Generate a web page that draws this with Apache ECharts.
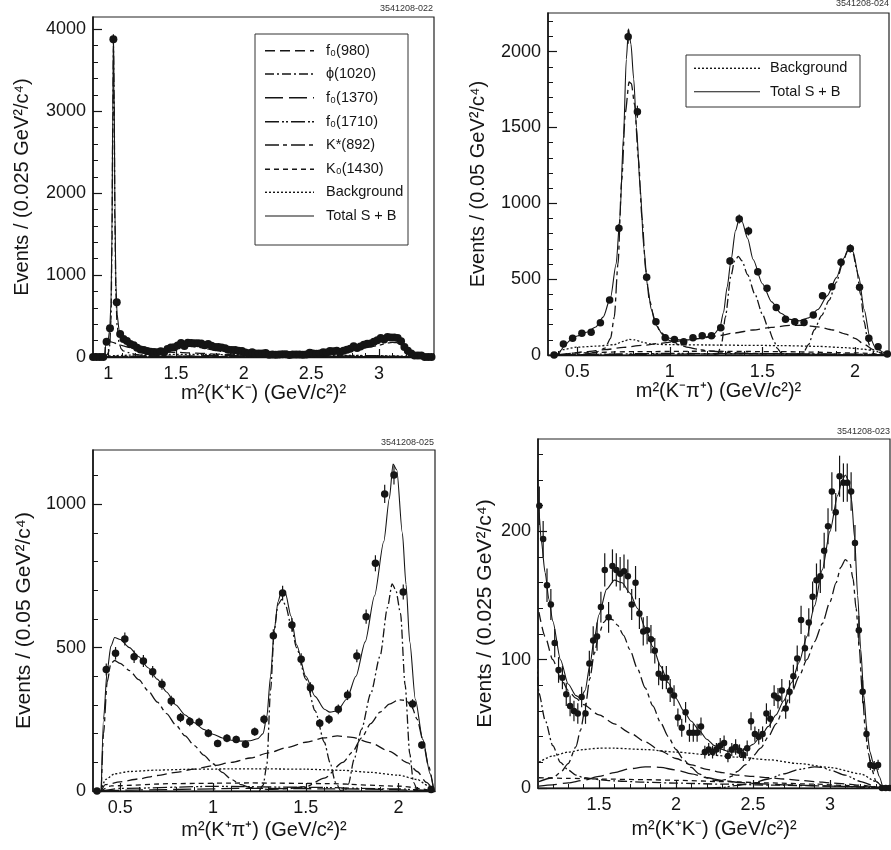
<!DOCTYPE html>
<html>
<head>
<meta charset="utf-8">
<script src="https://cdn.jsdelivr.net/npm/echarts@6/dist/echarts.min.js"></script>
<style>
html,body{margin:0;padding:0;background:#fff;}
#chart{width:891px;height:850px;}
</style>
</head>
<body>
<div id="chart"></div>
<script>
// ---------- measured histograms ----------
// m^2(K+K-) bin centres, 0.025 GeV^2 bins
const kkMass = [0.8875,0.9125,0.9375,0.9625,0.9875,1.0125,1.0375,1.0625,1.0875,
  1.1125,1.1375,1.1625,1.1875,1.2125,1.2375,1.2625,1.2875,1.3125,1.3375,
  1.3625,1.3875,1.4125,1.4375,1.4625,1.4875,1.5125,1.5375,1.5625,1.5875,
  1.6125,1.6375,1.6625,1.6875,1.7125,1.7375,1.7625,1.7875,1.8125,1.8375,
  1.8625,1.8875,1.9125,1.9375,1.9625,1.9875,2.0125,2.0375,2.0625,2.0875,
  2.1125,2.1375,2.1625,2.1875,2.2125,2.2375,2.2625,2.2875,2.3125,2.3375,
  2.3625,2.3875,2.4125,2.4375,2.4625,2.4875,2.5125,2.5375,2.5625,2.5875,
  2.6125,2.6375,2.6625,2.6875,2.7125,2.7375,2.7625,2.7875,2.8125,2.8375,
  2.8625,2.8875,2.9125,2.9375,2.9625,2.9875,3.0125,3.0375,3.0625,3.0875,
  3.1125,3.1375,3.1625,3.1875,3.2125,3.2375,3.2625,3.2875,3.3125,3.3375,
  3.3625,3.3875];
const kkCounts = [0,0,0,0,187,350,3878,667,280,
  220,194,158,143,113,92,86,73,64,60,
  58,71,58,97,115,118,141,170,133,173,
  170,167,169,165,143,160,136,122,123,116,
  107,89,86,86,76,72,55,47,59,43,
  43,43,48,28,30,28,30,33,35,25,
  30,32,29,26,31,52,42,40,42,58,
  54,72,70,76,62,75,87,101,131,109,
  129,149,162,165,185,204,231,215,243,238,
  238,231,191,123,75,42,18,17,18,0,
  0,0];
const kkErrors = [0,0,0,0,14,19,62,26,17,
  15,14,13,12,11,10,9,9,8,8,
  8,8,8,10,11,11,12,13,12,13,
  13,13,13,13,12,13,12,11,11,11,
  10,9,9,9,9,8,7,7,8,7,
  7,7,7,5,5,5,5,6,6,5,
  5,6,5,5,6,7,6,6,6,8,
  7,8,8,9,8,9,9,10,11,10,
  11,12,13,13,14,14,15,15,16,15,
  15,15,14,11,9,6,4,4,4,0,
  0,0];

// m^2(K pi) bin centres, 0.05 GeV^2 bins
const kpiMass = [0.375,0.425,0.475,0.525,0.575,0.625,0.675,0.725,0.775,0.825,
  0.875,0.925,0.975,1.025,1.075,1.125,1.175,1.225,1.275,1.325,
  1.375,1.425,1.475,1.525,1.575,1.625,1.675,1.725,1.775,1.825,
  1.875,1.925,1.975,2.025,2.075,2.125,2.175];
const kmPiCounts = [0,72,110,143,150,213,362,835,2098,1604,
  512,220,114,103,88,114,127,127,180,620,
  897,817,549,440,314,235,220,215,264,391,
  450,611,703,446,110,55,7];
const kmPiErrors = [0,8,10,12,12,15,19,29,46,40,
  23,15,11,10,9,11,11,11,13,25,
  30,29,23,21,18,15,15,15,16,20,
  21,25,27,21,10,7,3];
const kpPiCounts = [0,424,480,530,468,453,416,372,314,256,
  242,240,201,166,184,180,163,207,250,541,
  690,579,459,360,236,250,285,335,471,608,
  794,1036,1102,694,303,160,5];
const kpPiErrors = [0,21,22,23,22,21,20,19,18,16,
  16,15,14,13,14,13,13,14,16,23,
  26,24,21,19,15,16,17,18,22,25,
  28,32,33,26,17,13,2];

// ---------- fit projections, [m^2, events] ----------
const kkFitTotal = [[0.975,0],[0.979,140],[0.99,178],[1.0,215],[1.01,330],[1.02,650],[1.027,1500],[1.033,3000],[1.038,3930],[1.043,3300],[1.049,1800],[1.056,900],[1.065,520],[1.08,330],[1.095,255],[1.11,215],[1.125,193],[1.15,168],[1.175,147],[1.2,130],[1.25,100],[1.3,81],[1.35,72],[1.38,70],[1.41,76],[1.44,95],[1.47,117],[1.5,135],[1.55,155],[1.6,162],[1.65,160],[1.7,152],[1.75,140],[1.8,125],[1.85,110],[1.9,95],[1.95,82],[2.0,70],[2.05,60],[2.1,52],[2.15,45],[2.2,38],[2.25,33],[2.3,30],[2.35,28],[2.4,28],[2.45,30],[2.5,34],[2.55,40],[2.6,48],[2.65,57],[2.7,68],[2.75,82],[2.8,98],[2.85,118],[2.9,142],[2.95,170],[3.0,200],[3.05,228],[3.08,240],[3.1,244],[3.12,240],[3.14,225],[3.16,195],[3.18,150],[3.2,108],[3.22,72],[3.24,45],[3.26,28],[3.28,20],[3.3,16],[3.32,9],[3.343,0]];
const kkFitF0980 = [[0.975,0],[0.979,150],[0.99,185],[1.0,190],[1.02,185],[1.04,175],[1.06,162],[1.08,150],[1.11,137],[1.15,118],[1.2,100],[1.25,86],[1.3,76],[1.35,70],[1.4,65],[1.5,57],[1.6,50],[1.7,43],[1.8,36],[1.9,29],[2.0,23],[2.1,18],[2.2,14.5],[2.3,12],[2.4,10],[2.5,9],[2.6,8],[2.7,7],[2.8,6],[2.9,5],[3.0,4],[3.1,3.2],[3.2,2.2],[3.3,0.8],[3.343,0]];
const kkFitPhi = [[0.975,0],[0.99,25],[1.0,50],[1.01,130],[1.02,450],[1.027,1350],[1.033,2850],[1.038,3800],[1.043,3150],[1.049,1650],[1.056,780],[1.065,390],[1.08,170],[1.095,100],[1.11,74],[1.15,53],[1.2,33],[1.25,20],[1.3,14],[1.35,10],[1.4,8],[1.5,6.5],[1.6,5.5],[1.8,4.5],[2.0,3.8],[2.3,3],[2.6,2.3],[3.0,1.5],[3.3,0.5],[3.343,0]];
const kkFitF01370 = [[0.975,0],[1.11,1.5],[1.2,2.5],[1.3,4],[1.4,6],[1.5,9],[1.6,12],[1.7,15],[1.8,16.5],[1.85,16.5],[1.9,16],[2.0,14],[2.1,11],[2.2,8],[2.3,6],[2.4,4.5],[2.5,3.5],[2.7,2.5],[3.0,1.5],[3.3,0.5],[3.343,0]];
const kkFitF01710 = [[0.975,0],[2.2,0],[2.3,0.5],[2.4,2],[2.5,4],[2.6,7],[2.7,11],[2.8,14.5],[2.9,16.5],[2.95,16],[3.0,14],[3.1,10],[3.2,5],[3.3,1],[3.343,0]];
const kkFitKstar = [[0.975,0],[1.0,3],[1.05,4],[1.11,5],[1.2,8],[1.25,12],[1.3,19],[1.35,32],[1.38,45],[1.41,62],[1.44,85],[1.47,105],[1.5,120],[1.53,129],[1.56,133],[1.59,131],[1.62,127],[1.66,119],[1.7,108],[1.75,93],[1.8,78],[1.85,64],[1.9,51],[1.95,40],[2.0,30],[2.05,22],[2.1,16],[2.15,11],[2.2,8],[2.25,6],[2.28,5.5],[2.32,6.5],[2.36,9],[2.4,13],[2.45,18],[2.5,25],[2.55,31],[2.6,40],[2.65,50],[2.7,62],[2.75,74],[2.8,87],[2.85,100],[2.9,114],[2.95,128],[3.0,145],[3.04,160],[3.07,172],[3.1,178],[3.13,175],[3.15,163],[3.17,140],[3.19,110],[3.21,75],[3.23,45],[3.25,27],[3.27,15],[3.3,5],[3.343,0]];
const kkFitK01430 = [[0.975,0],[1.0,5],[1.11,8],[1.3,7.5],[1.5,7],[1.8,6.5],[2.0,6],[2.3,5],[2.6,4],[2.9,3],[3.1,2],[3.3,0.6],[3.343,0]];
const kkFitBkg = [[0.975,0],[1.0,12],[1.05,17],[1.11,20],[1.2,25],[1.3,28],[1.4,30],[1.5,31],[1.6,31],[1.8,30],[2.0,28],[2.2,26],[2.4,24],[2.6,22],[2.8,19],[3.0,16],[3.2,11],[3.3,5],[3.343,0]];

const kmFitTotal = [[0.401,0],[0.41,30],[0.43,60],[0.46,95],[0.5,125],[0.55,150],[0.6,185],[0.64,250],[0.68,380],[0.71,600],[0.73,900],[0.75,1450],[0.765,1950],[0.777,2150],[0.79,2050],[0.805,1820],[0.82,1500],[0.84,1100],[0.86,700],[0.88,450],[0.9,300],[0.93,190],[0.96,135],[1.0,110],[1.05,100],[1.1,100],[1.15,108],[1.2,120],[1.24,140],[1.27,180],[1.29,280],[1.31,450],[1.33,620],[1.355,820],[1.375,900],[1.39,880],[1.42,770],[1.45,630],[1.5,470],[1.55,350],[1.6,275],[1.65,235],[1.7,225],[1.75,245],[1.8,300],[1.85,390],[1.9,510],[1.94,640],[1.97,705],[1.99,680],[2.02,520],[2.05,300],[2.08,120],[2.11,50],[2.15,20],[2.173,0]];
const kmFitKstar = [[0.401,0],[0.5,3],[0.55,8],[0.6,18],[0.65,45],[0.68,110],[0.7,250],[0.72,600],[0.74,1150],[0.76,1600],[0.78,1800],[0.792,1790],[0.81,1650],[0.83,1300],[0.85,900],[0.87,560],[0.89,360],[0.92,220],[0.95,150],[1.0,95],[1.05,68],[1.1,50],[1.15,38],[1.2,28],[1.3,18],[1.4,12],[1.6,7],[1.8,4],[2.0,2],[2.173,0]];
const kmFitPhi = [[1.24,0],[1.26,10],[1.28,77],[1.3,250],[1.33,520],[1.35,620],[1.37,650],[1.39,620],[1.42,530],[1.46,400],[1.5,270],[1.53,185],[1.56,100],[1.58,45],[1.6,15],[1.62,0],[1.7,0],[1.72,12],[1.75,70],[1.78,165],[1.82,260],[1.86,360],[1.9,480],[1.93,590],[1.96,690],[1.975,702],[1.99,670],[2.01,560],[2.03,400],[2.05,220],[2.07,90],[2.09,20],[2.11,0]];
const kmFitF0980 = [[0.39,0],[0.45,10],[0.55,22],[0.65,35],[0.75,50],[0.85,63],[0.95,77],[1.05,92],[1.15,108],[1.25,125],[1.35,145],[1.45,165],[1.55,182],[1.65,195],[1.72,196],[1.8,185],[1.88,165],[1.95,138],[2.0,110],[2.05,70],[2.1,35],[2.15,8],[2.18,0]];
const kmFitBkg = [[0.39,0],[0.42,35],[0.5,52],[0.6,58],[0.7,68],[0.75,90],[0.78,103],[0.81,100],[0.85,85],[0.9,72],[1.0,68],[1.2,66],[1.4,64],[1.6,62],[1.8,57],[1.95,48],[2.05,38],[2.12,22],[2.18,0]];
const kmFitK01430 = [[0.39,0],[0.5,14],[0.8,22],[1.2,25],[1.6,22],[2.0,14],[2.18,0]];
const kmFitF01710 = [[0.39,0],[0.6,6],[1.0,10],[1.5,9],[2.0,5],[2.18,0]];
const kmFitF01370 = [[0.39,0],[0.7,4],[1.3,8],[1.9,6],[2.18,0]];

const kpFitTotal = [[0.398,0],[0.41,250],[0.43,420],[0.45,505],[0.47,535],[0.5,528],[0.55,500],[0.6,468],[0.65,430],[0.7,390],[0.75,345],[0.8,300],[0.85,265],[0.9,238],[0.95,215],[1.0,198],[1.05,185],[1.1,177],[1.15,174],[1.2,175],[1.24,182],[1.27,200],[1.29,260],[1.31,400],[1.33,560],[1.35,660],[1.37,700],[1.39,690],[1.42,610],[1.45,510],[1.5,400],[1.55,330],[1.6,285],[1.63,275],[1.67,280],[1.72,320],[1.77,400],[1.82,520],[1.87,680],[1.92,870],[1.95,1020],[1.97,1140],[1.99,1120],[2.02,900],[2.04,720],[2.06,520],[2.09,320],[2.13,180],[2.17,60],[2.19,0]];
const kpFitKstar = [[0.398,0],[0.41,200],[0.43,380],[0.45,445],[0.47,455],[0.5,445],[0.55,420],[0.6,388],[0.65,350],[0.7,310],[0.75,270],[0.8,230],[0.85,192],[0.9,158],[0.95,125],[1.0,95],[1.05,65],[1.1,40],[1.15,22],[1.2,12],[1.3,6],[1.4,8],[1.5,15],[1.6,45],[1.7,100],[1.75,135],[1.8,185],[1.85,235],[1.9,275],[1.95,303],[2.0,318],[2.04,316],[2.07,295],[2.1,250],[2.13,180],[2.16,90],[2.19,0]];
const kpFitPhi = [[1.25,0],[1.27,20],[1.29,90],[1.31,350],[1.33,560],[1.35,650],[1.37,668],[1.39,650],[1.42,580],[1.45,500],[1.5,390],[1.55,280],[1.6,170],[1.63,100],[1.66,30],[1.69,0],[1.71,0],[1.73,25],[1.76,110],[1.8,215],[1.85,340],[1.9,470],[1.94,640],[1.965,722],[1.985,700],[2.01,620],[2.035,370],[2.06,130],[2.08,30],[2.1,0]];
const kpFitF0980 = [[0.398,0],[0.42,22],[0.5,32],[0.6,42],[0.7,54],[0.8,65],[0.9,76],[1.0,88],[1.1,100],[1.2,115],[1.3,133],[1.4,152],[1.5,170],[1.6,185],[1.67,192],[1.75,187],[1.85,168],[1.95,138],[2.05,98],[2.1,68],[2.15,30],[2.19,0]];
const kpFitBkg = [[0.398,0],[0.42,40],[0.47,60],[0.55,68],[0.7,73],[0.9,76],[1.1,77],[1.3,77],[1.5,76],[1.7,72],[1.85,65],[2.0,55],[2.1,40],[2.16,18],[2.19,0]];
const kpFitK01430 = [[0.398,0],[0.45,18],[0.8,26],[1.2,28],[1.6,26],[2.0,17],[2.19,0]];
const kpFitF01710 = [[0.398,0],[0.5,9],[1.0,16],[1.5,13],[2.0,7],[2.19,0]];
const kpFitF01370 = [[0.398,0],[0.6,4],[1.2,9],[1.8,7],[2.19,0]];

// ---------- tick labels ----------
const kkTicksX = [1, 1.5, 2, 2.5, 3];
const kkTicksY = [0, 1000, 2000, 3000, 4000];
const kmTicksX = [0.5, 1, 1.5, 2];
const kmTicksY = [0, 500, 1000, 1500, 2000];
const kpTicksX = [0.5, 1, 1.5, 2];
const kpTicksY = [0, 500, 1000];
const kkZoomTicksX = [1.5, 2, 2.5, 3];
const kkZoomTicksY = [0, 100, 200];

// ---------- styling ----------
const INK = '#151515';
const FONT = '"Liberation Sans", Arial, Helvetica, sans-serif';
const DASH = {
  f0980: [10, 5],
  phi: [9, 3, 2, 3],
  f01370: [18, 6],
  f01710: [14, 3, 2, 2, 2, 3],
  kstar: [14, 4, 4, 4],
  k01430: [5, 4],
  bkg: [2, 2],
  total: 'solid'
};

const panels = [
  { grid: {left: 93, top: 17, width: 341, height: 340},
    xMin: 0.887, xMax: 3.406, yMax: 4150, xTicks: kkTicksX, yTicks: kkTicksY,
    xMinor: 0.1, yMinor: 200,
    xName: 'm²(K⁺K⁻) (GeV/c²)²', yName: 'Events / (0.025 GeV²/c⁴)',
    xGap: 22, yGap: 61, yNameSize: 20, sym: 8, xCut: 0,
    mass: kkMass, counts: kkCounts, errors: kkErrors,
    curves: [[kkFitBkg,'bkg'],[kkFitK01430,'k01430'],[kkFitF01710,'f01710'],[kkFitF01370,'f01370'],
             [kkFitF0980,'f0980'],[kkFitKstar,'kstar'],[kkFitPhi,'phi'],[kkFitTotal,'total']],
    id: '3541208-022', idX: 433, idY: 9 },
  { grid: {left: 548, top: 13, width: 341, height: 342},
    xMin: 0.342, xMax: 2.184, yMax: 2255, xTicks: kmTicksX, yTicks: kmTicksY,
    xMinor: 0.1, yMinor: 100,
    xName: 'm²(K⁻π⁺) (GeV/c²)²', yName: 'Events / (0.05 GeV²/c⁴)',
    xGap: 24, yGap: 60, yNameSize: 20, sym: 7.5, xCut: 0,
    mass: kpiMass, counts: kmPiCounts, errors: kmPiErrors,
    curves: [[kmFitBkg,'bkg'],[kmFitK01430,'k01430'],[kmFitF01710,'f01710'],[kmFitF01370,'f01370'],
             [kmFitF0980,'f0980'],[kmFitPhi,'phi'],[kmFitKstar,'kstar'],[kmFitTotal,'total']],
    id: '3541208-024', idX: 889, idY: 4 },
  { grid: {left: 93, top: 450, width: 342, height: 341},
    xMin: 0.3535, xMax: 2.196, yMax: 1189, xTicks: kpTicksX, yTicks: kpTicksY,
    xMinor: 0.1, yMinor: 100,
    xName: 'm²(K⁺π⁺) (GeV/c²)²', yName: 'Events / (0.05 GeV²/c⁴)',
    xGap: 29, yGap: 58, yNameSize: 21, sym: 7.5, xCut: 0,
    mass: kpiMass, counts: kpPiCounts, errors: kpPiErrors,
    curves: [[kpFitBkg,'bkg'],[kpFitK01430,'k01430'],[kpFitF01710,'f01710'],[kpFitF01370,'f01370'],
             [kpFitF0980,'f0980'],[kpFitKstar,'kstar'],[kpFitPhi,'phi'],[kpFitTotal,'total']],
    id: '3541208-025', idX: 434, idY: 443 },
  { grid: {left: 538, top: 439, width: 352, height: 349},
    xMin: 1.104, xMax: 3.39, yMax: 272, xTicks: kkZoomTicksX, yTicks: kkZoomTicksY,
    xMinor: 0.1, yMinor: 20,
    xName: 'm²(K⁺K⁻) (GeV/c²)²', yName: 'Events / (0.025 GeV²/c⁴)',
    xGap: 31, yGap: 42, yNameSize: 21, sym: 6.5, xCut: 1.09,
    mass: kkMass, counts: kkCounts, errors: kkErrors,
    curves: [[kkFitBkg,'bkg'],[kkFitK01430,'k01430'],[kkFitF01710,'f01710'],[kkFitF01370,'f01370'],
             [kkFitF0980,'f0980'],[kkFitKstar,'kstar'],[kkFitPhi,'phi'],[kkFitTotal,'total']],
    id: '3541208-023', idX: 890, idY: 432 }
];

function minorValues(min, max, step, majors) {
  const out = [];
  const k0 = Math.ceil(min / step - 1e-9), k1 = Math.floor(max / step + 1e-9);
  for (let k = k0; k <= k1; k++) {
    const v = Math.round(k * step * 1e6) / 1e6;
    if (v <= min || v >= max) continue;
    if (majors.some(m => Math.abs(m - v) < 1e-6)) continue;
    out.push(v);
  }
  return out;
}

const grids = [], xAxes = [], yAxes = [], series = [];
const labelStyle = {color: INK, fontFamily: FONT, fontSize: 18};

panels.forEach((p, gi) => {
  grids.push(Object.assign({show: true, borderColor: '#222', borderWidth: 1.2, backgroundColor: '#fff'}, p.grid));
  const xIdx = xAxes.length, yIdx = yAxes.length;
  xAxes.push({
    gridIndex: gi, type: 'value', min: p.xMin, max: p.xMax, position: 'bottom',
    axisLine: {show: true, onZero: false, lineStyle: {color: INK, width: 1.4}},
    axisTick: {show: true, inside: true, length: 8, customValues: p.xTicks, lineStyle: {color: INK, width: 1.2}},
    axisLabel: Object.assign({show: true, margin: 8, customValues: p.xTicks, formatter: v => String(v)}, labelStyle),
    splitLine: {show: false},
    name: p.xName, nameLocation: 'middle', nameGap: p.xGap,
    nameTextStyle: {color: INK, fontFamily: FONT, fontSize: 20}
  });
  xAxes.push({
    gridIndex: gi, type: 'value', min: p.xMin, max: p.xMax, position: 'bottom',
    axisLine: {show: false},
    axisTick: {show: true, inside: true, length: 4, customValues: minorValues(p.xMin, p.xMax, p.xMinor, p.xTicks), lineStyle: {color: INK, width: 1}},
    axisLabel: {show: false}, splitLine: {show: false}
  });
  yAxes.push({
    gridIndex: gi, type: 'value', min: 0, max: p.yMax, position: 'left',
    axisLine: {show: true, onZero: false, lineStyle: {color: INK, width: 1.6}},
    axisTick: {show: true, inside: true, length: 9, customValues: p.yTicks, lineStyle: {color: INK, width: 1.2}},
    axisLabel: Object.assign({show: true, margin: 7, customValues: p.yTicks, formatter: v => String(v)}, labelStyle),
    splitLine: {show: false},
    name: p.yName, nameLocation: 'middle', nameGap: p.yGap, nameRotate: 90,
    nameTextStyle: {color: INK, fontFamily: FONT, fontSize: p.yNameSize}
  });
  yAxes.push({
    gridIndex: gi, type: 'value', min: 0, max: p.yMax, position: 'left',
    axisLine: {show: false},
    axisTick: {show: true, inside: true, length: 5, customValues: minorValues(0, p.yMax, p.yMinor, p.yTicks), lineStyle: {color: INK, width: 1}},
    axisLabel: {show: false}, splitLine: {show: false}
  });

  // fit components
  p.curves.forEach(([pts, key]) => {
    const data = pts.filter(d => d[0] >= p.xCut);
    series.push({
      type: 'line', xAxisIndex: xIdx, yAxisIndex: yIdx, data: data,
      symbol: 'none', showSymbol: false, smooth: 0.25, smoothMonotone: 'x',
      clip: true, silent: true, animation: false, z: key === 'total' ? 4 : 3,
      lineStyle: {color: INK, width: key === 'total' ? 1.1 : 1.3, type: DASH[key]}
    });
  });

  // measured points with statistical errors
  const pts = [], bars = [];
  p.mass.forEach((m, i) => {
    if (m < p.xCut || m < p.xMin || m > p.xMax) return;
    pts.push([m, p.counts[i]]);
    if (p.errors[i] > 0) bars.push([m, p.counts[i], p.errors[i]]);
  });
  series.push({
    type: 'custom', xAxisIndex: xIdx, yAxisIndex: yIdx, data: bars,
    encode: {x: 0, y: 1}, silent: true, animation: false, z: 5, clip: false,
    renderItem: function (params, api) {
      const x = api.value(0), y = api.value(1), e = api.value(2);
      const lo = api.coord([x, y - e]), hi = api.coord([x, y + e]);
      return {type: 'line', shape: {x1: lo[0], y1: lo[1], x2: hi[0], y2: hi[1]},
              style: {stroke: INK, lineWidth: 1.2}};
    }
  });
  series.push({
    type: 'scatter', xAxisIndex: xIdx, yAxisIndex: yIdx, data: pts,
    symbol: 'circle', symbolSize: p.sym, clip: false, silent: true, animation: false, z: 6,
    itemStyle: {color: INK, opacity: 1}
  });
});

// ---------- legends and figure ids ----------
const graphic = [];
function legendBox(x, y, w, h, rows, lineX1, lineX2, textX, rowY) {
  graphic.push({type: 'rect', z: 100, shape: {x: x, y: y, width: w, height: h},
    style: {fill: '#fff', stroke: '#333', lineWidth: 1}});
  rows.forEach(([label, key], i) => {
    const yy = rowY[i];
    graphic.push({type: 'line', z: 101, shape: {x1: lineX1, y1: yy, x2: lineX2, y2: yy},
      style: {stroke: INK, lineWidth: key === 'total' ? 1.1 : 1.4, lineDash: key === 'total' ? null : DASH[key]}});
    graphic.push({type: 'text', z: 101, x: textX, y: yy,
      style: {text: label, fill: INK, fontFamily: FONT, fontSize: 14.5, align: 'left', verticalAlign: 'middle'}});
  });
}
legendBox(255, 34, 153, 211, [
  ['f₀(980)', 'f0980'], ['ϕ(1020)', 'phi'], ['f₀(1370)', 'f01370'], ['f₀(1710)', 'f01710'],
  ['K*(892)', 'kstar'], ['K₀(1430)', 'k01430'], ['Background', 'bkg'], ['Total S + B', 'total']
], 265, 314, 326, [50.7, 74, 97.7, 121.7, 145, 169.3, 192.3, 216]);
legendBox(686, 55, 174, 52, [['Background', 'bkg'], ['Total S + B', 'total']],
  694, 760, 770, [68.3, 91.7]);

panels.forEach(p => {
  graphic.push({type: 'text', z: 101, x: p.idX, y: p.idY,
    style: {text: p.id, fill: '#333', fontFamily: FONT, fontSize: 9, align: 'right', verticalAlign: 'middle'}});
});

const chart = echarts.init(document.getElementById('chart'), null, {renderer: 'canvas'});
chart.setOption({
  animation: false,
  backgroundColor: '#fff',
  grid: grids,
  xAxis: xAxes,
  yAxis: yAxes,
  series: series,
  graphic: graphic
});
</script>
</body>
</html>
